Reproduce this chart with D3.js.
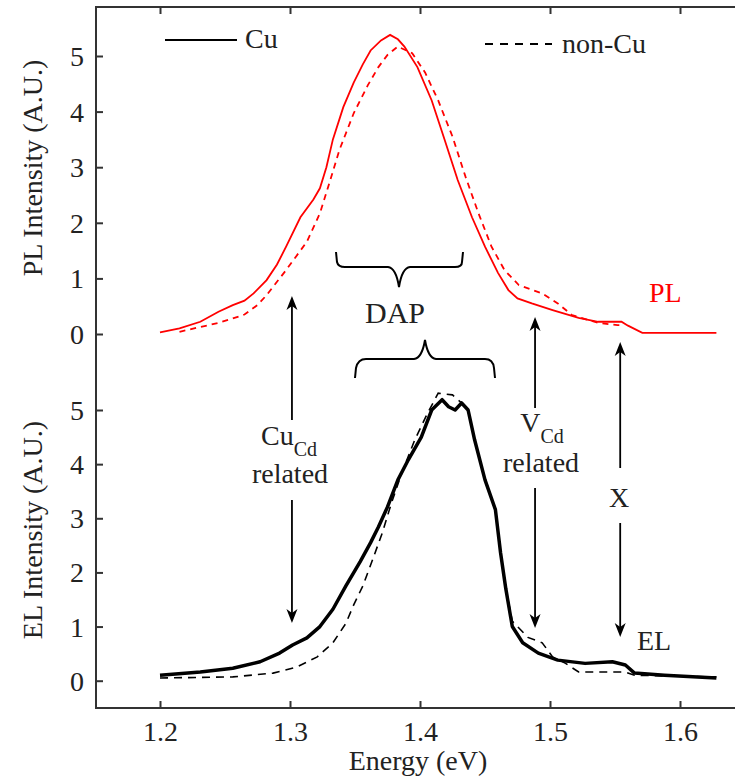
<!DOCTYPE html>
<html>
<head>
<meta charset="utf-8">
<script src="https://cdn.jsdelivr.net/npm/d3@7"></script>
<style>
  html, body { margin: 0; padding: 0; background: #fff; }
  svg { display: block; }
</style>
</head>
<body>
<svg id="chart" width="735" height="780"></svg>
<script>
// ---------- data ----------
const xTicks = [1.2, 1.3, 1.4, 1.5, 1.6];
const yTicks = [0, 1, 2, 3, 4, 5];

// PL, Cu (solid red)
const plCuE = [1.200,1.215,1.231,1.245,1.256,1.265,1.272,1.282,1.290,1.297,1.308,1.318,1.323,1.328,1.333,1.341,1.349,1.356,1.362,1.370,1.377,1.383,1.388,1.398,1.409,1.419,1.429,1.440,1.450,1.460,1.468,1.475,1.486,1.502,1.522,1.537,1.555,1.560,1.571,1.628];
const plCuI = [0.03,0.10,0.22,0.40,0.52,0.60,0.73,0.97,1.25,1.57,2.10,2.42,2.62,3.00,3.50,4.08,4.52,4.85,5.10,5.28,5.38,5.30,5.17,4.80,4.20,3.49,2.77,2.10,1.57,1.10,0.79,0.64,0.55,0.43,0.29,0.22,0.22,0.15,0.02,0.02];

// PL, non-Cu (dashed red)
const plNonE = [1.215,1.230,1.245,1.256,1.265,1.275,1.282,1.297,1.313,1.323,1.331,1.338,1.349,1.360,1.368,1.375,1.383,1.394,1.404,1.414,1.425,1.435,1.445,1.455,1.465,1.476,1.494,1.506,1.517,1.537,1.552,1.555];
const plNonI = [0.04,0.12,0.20,0.28,0.35,0.52,0.70,1.15,1.66,2.17,2.77,3.31,3.97,4.48,4.80,5.02,5.17,5.05,4.70,4.20,3.55,2.83,2.17,1.57,1.15,0.88,0.73,0.55,0.34,0.20,0.16,0.16];

// EL, Cu (thick solid black)
const elCuE = [1.200,1.231,1.256,1.277,1.292,1.302,1.313,1.323,1.333,1.343,1.354,1.362,1.368,1.375,1.383,1.391,1.401,1.409,1.417,1.422,1.427,1.432,1.437,1.442,1.450,1.458,1.462,1.466,1.471,1.479,1.491,1.506,1.527,1.548,1.558,1.565,1.588,1.628];
const elCuI = [0.10,0.16,0.23,0.35,0.51,0.66,0.79,1.00,1.32,1.75,2.20,2.55,2.84,3.21,3.71,4.08,4.50,5.00,5.19,5.06,5.00,5.13,5.00,4.45,3.71,3.16,2.36,1.70,1.00,0.70,0.51,0.38,0.32,0.35,0.29,0.14,0.10,0.05];

// EL, non-Cu (thin dashed black)
const elNonE = [1.200,1.256,1.287,1.305,1.321,1.333,1.343,1.349,1.356,1.363,1.371,1.378,1.386,1.396,1.406,1.414,1.425,1.432,1.437,1.442,1.450,1.458,1.462,1.466,1.471,1.483,1.494,1.502,1.512,1.522,1.540,1.558,1.565,1.628];
const elNonI = [0.05,0.07,0.14,0.25,0.44,0.70,1.06,1.40,1.75,2.20,2.73,3.28,3.84,4.45,4.95,5.31,5.28,5.13,5.00,4.45,3.71,3.16,2.36,1.70,1.10,0.80,0.70,0.44,0.32,0.16,0.16,0.16,0.10,0.07];

// ---------- layout ----------
const FF = '"Liberation Serif", "DejaVu Serif", "Times New Roman", serif';
const svg = d3.select("#chart").style("font-family", FF);
const FONT = 28;
const frame = { left: 96, top: 7, right: 745, bottom: 708 };

const x = d3.scaleLinear().domain([1.2, 1.6]).range([160, 680]);
const yPL = d3.scaleLinear().domain([0, 5]).range([334, 56]);
const yEL = d3.scaleLinear().domain([0, 5]).range([680.7, 410]);

const axisColor = "#333";
const txt = "#222";

function addText(xp, yp, s, opts = {}) {
  return svg.append("text").attr("x", xp).attr("y", yp)
    .attr("font-family", FF).attr("font-size", opts.size || FONT)
    .attr("fill", opts.fill || txt).attr("text-anchor", opts.anchor || "start")
    .text(s);
}

// frame
svg.append("rect")
  .attr("x", frame.left).attr("y", frame.top)
  .attr("width", frame.right - frame.left).attr("height", frame.bottom - frame.top)
  .attr("fill", "none").attr("stroke", axisColor).attr("stroke-width", 2);

function styleAxis(g) {
  g.attr("font-family", FF).attr("font-size", FONT);
  g.select(".domain").remove();
  g.selectAll(".tick line").attr("stroke", axisColor).attr("stroke-width", 2);
  g.selectAll(".tick text").attr("fill", txt).attr("font-family", FF).attr("font-size", FONT);
}

// bottom axis
const gB = svg.append("g").attr("transform", `translate(0,${frame.bottom})`)
  .call(d3.axisBottom(x).tickValues(xTicks).tickFormat(d3.format(".1f")).tickSizeInner(-7).tickSizeOuter(0).tickPadding(13));
styleAxis(gB);
gB.selectAll(".tick text").attr("dy", null).attr("y", 33);

// top axis (ticks only)
const gT = svg.append("g").attr("transform", `translate(0,${frame.top})`)
  .call(d3.axisTop(x).tickValues(xTicks).tickFormat("").tickSizeInner(-7).tickSizeOuter(0));
styleAxis(gT);

// left axes
[yPL, yEL].forEach(sc => {
  const g = svg.append("g").attr("transform", `translate(${frame.left},0)`)
    .call(d3.axisLeft(sc).tickValues(yTicks).tickFormat(d3.format("d")).tickSizeInner(-7).tickSizeOuter(0).tickPadding(12));
  styleAxis(g);
  g.selectAll(".tick text").attr("dy", "0.34em");
});

// axis titles
svg.append("text").attr("transform", "translate(42,168) rotate(-90)")
  .attr("text-anchor", "middle").attr("font-family", FF).attr("font-size", FONT).attr("fill", txt)
  .text("PL Intensity (A.U.)");
svg.append("text").attr("transform", "translate(42,530) rotate(-90)")
  .attr("text-anchor", "middle").attr("font-family", FF).attr("font-size", FONT).attr("fill", txt)
  .text("EL Intensity (A.U.)");
addText(418, 770, "Energy (eV)", { anchor: "middle" });

// ---------- curves ----------
const zip = (a, b) => a.map((v, i) => [v, b[i]]);
const lineFor = ys => d3.line().x(d => x(d[0])).y(d => ys(d[1]));

svg.append("path").datum(zip(plNonE, plNonI))
  .attr("d", lineFor(yPL)).attr("fill", "none")
  .attr("stroke", "#ff0000").attr("stroke-width", 1.8).attr("stroke-dasharray", "6,5");
svg.append("path").datum(zip(plCuE, plCuI))
  .attr("d", lineFor(yPL)).attr("fill", "none")
  .attr("stroke", "#ff0000").attr("stroke-width", 1.8);

svg.append("path").datum(zip(elNonE, elNonI))
  .attr("d", lineFor(yEL)).attr("fill", "none")
  .attr("stroke", "#000").attr("stroke-width", 1.6).attr("stroke-dasharray", "8,6");
svg.append("path").datum(zip(elCuE, elCuI))
  .attr("d", lineFor(yEL)).attr("fill", "none")
  .attr("stroke", "#000").attr("stroke-width", 3.5).attr("stroke-linejoin", "round");

// ---------- legend ----------
svg.append("line").attr("x1", 165).attr("x2", 237).attr("y1", 40).attr("y2", 40)
  .attr("stroke", "#000").attr("stroke-width", 1.8);
addText(245, 48, "Cu");
svg.append("line").attr("x1", 485).attr("x2", 552).attr("y1", 44).attr("y2", 44)
  .attr("stroke", "#000").attr("stroke-width", 1.8).attr("stroke-dasharray", "8,7");
addText(562, 53, "non-Cu");

// curve labels
addText(649, 302, "PL", { fill: "#ff0000" });
addText(637, 650, "EL");

// ---------- annotations ----------
function arrow(xv, y1, y2) {
  const dir = y2 > y1 ? 1 : -1;
  const px = x(xv);
  svg.append("line").attr("x1", px).attr("x2", px).attr("y1", y1).attr("y2", y2 - dir * 8)
    .attr("stroke", "#000").attr("stroke-width", 1.8);
  svg.append("path")
    .attr("d", `M${px},${y2} L${px - 5.5},${y2 - dir * 14} L${px},${y2 - dir * 10} L${px + 5.5},${y2 - dir * 14} Z`)
    .attr("fill", "#000");
}
arrow(1.3015, 420, 296);
arrow(1.3015, 500, 623);
arrow(1.4885, 408, 317);
arrow(1.4885, 488, 628);
arrow(1.554, 468, 342);
arrow(1.554, 523, 637);

function subLabel(cx, base, main, sub) {
  const t = svg.append("text").attr("x", cx).attr("y", base).attr("text-anchor", "middle")
    .attr("font-family", FF).attr("font-size", FONT).attr("fill", txt);
  t.append("tspan").text(main);
  t.append("tspan").attr("font-size", 20).attr("dy", 11).text(sub);
}
subLabel(289, 445, "Cu", "Cd");
addText(290, 483, "related", { anchor: "middle" });
subLabel(542, 432, "V", "Cd");
addText(541, 472, "related", { anchor: "middle" });
addText(619, 507, "X", { anchor: "middle" });

// DAP braces
svg.append("path")
  .attr("d", "M336,252 L337,262 Q338,267 345,267 L388,267 Q396,268 399,287 Q402,268 410,267 L455,267 Q462,267 462,262 L463,252")
  .attr("fill", "none").attr("stroke", "#000").attr("stroke-width", 2);
svg.append("path")
  .attr("d", "M355,378 L356,368 Q358,359 366,359 L414,359 Q422,358 425,340 Q428,358 436,359 L485,359 Q493,359 494,368 L495,378")
  .attr("fill", "none").attr("stroke", "#000").attr("stroke-width", 2);
addText(395, 323, "DAP", { anchor: "middle", size: 30 });
</script>
</body>
</html>
